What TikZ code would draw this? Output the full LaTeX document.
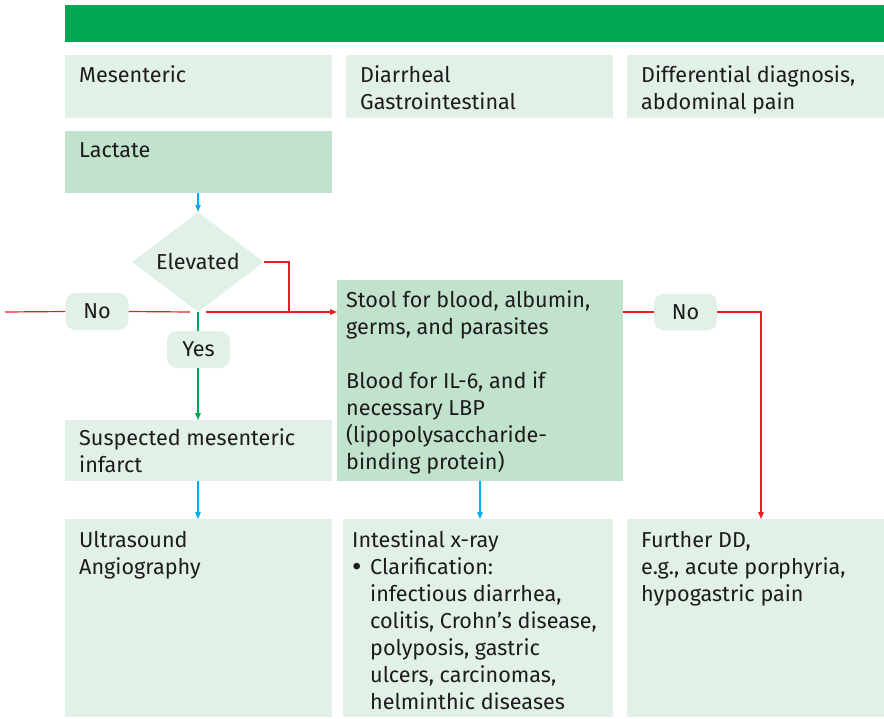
\documentclass[tikz,border=0pt]{standalone}
\usepackage{fontspec}
\setmainfont{Fira Sans}
\usetikzlibrary{shapes.geometric,arrows.meta,calc}
\definecolor{hdrgreen}{HTML}{00A651}
\definecolor{palegreen}{HTML}{E1F1E7}
\definecolor{midgreen}{HTML}{C1E2CD}
\definecolor{flowred}{HTML}{EC1C24}
\definecolor{flowblue}{HTML}{00AEEF}
\definecolor{flowgreen}{HTML}{00A651}
\definecolor{ink}{HTML}{1E1B1C}
\newcommand{\bigbullet}{\makebox[18pt][l]{\raisebox{-2.2pt}{\fontsize{29}{27}\selectfont\textbullet}}}
\tikzset{
  box/.style={rectangle, inner sep=0pt, outer sep=0pt, anchor=north west, fill=palegreen},
  darkbox/.style={box, fill=midgreen},
  txt/.style={anchor=north west, inner sep=0pt, align=left, text=ink,
              font=\fontsize{21.6}{27}\selectfont},
  pill/.style={rectangle, rounded corners=10pt, fill=palegreen, inner sep=0pt,
               minimum width=63pt, minimum height=37pt, text=ink,
               font=\fontsize{21.6}{27}\selectfont},
  tip/.style={-{Triangle[length=7pt,width=5.5pt]}},
  conn/.style={line width=1.2pt},
}
\begin{document}
\begin{tikzpicture}[x=1pt,y=-1pt]
\useasboundingbox (0,0) rectangle (884,718);

% header bar
\node[box, fill=hdrgreen, minimum width=819pt, minimum height=37pt] (hdr) at (65,5) {};

% column headings
\node[box, minimum width=267pt, minimum height=63pt] (h1) at (65,55) {};
\node[box, minimum width=267pt, minimum height=63pt] (h2) at (346,55) {};
\node[box, minimum width=257pt, minimum height=63pt] (h3) at (627,55) {};
\node[txt] (h1t) at ($(h1.north west)+(14,8)$) {\strut Mesenteric};
\node[txt] (h2t) at ($(h2.north west)+(14,8)$) {\strut Diarrheal\\Gastrointestinal};
\node[txt] (h3t) at ($(h3.north west)+(14,8)$) {\strut Differential diagnosis,\\abdominal pain};

% lactate
\node[darkbox, minimum width=267pt, minimum height=62pt] (lact) at (65,131) {};
\node[txt] (lactt) at ($(lact.north west)+(14,7)$) {\strut Lactate};

% decision
\node[diamond, fill=palegreen, inner sep=0pt, minimum width=132pt, minimum height=86pt,
      text=ink, font=\fontsize{21.6}{27}\selectfont] (diam) at (198,262) {Elevated};

% pills
\node[pill] (noL) at (97,311.5) {No};
\node[pill] (yes) at (198.5,349.5) {Yes};
\node[pill] (noR) at (685.5,312) {No};

% suspected infarct
\node[box, minimum width=267pt, minimum height=61pt] (susp) at (65,420) {};
\node[txt] (suspt) at ($(susp.north west)+(14,6)$) {\strut Suspected mesenteric\\infarct};

% stool / blood tests
\node[darkbox, minimum width=286pt, minimum height=201pt] (stool) at (337,280) {};
\node[txt] (stoolt) at ($(stool.north west)+(9,8)$) {\strut Stool for blood, albumin,\\germs, and parasites\\[27pt]Blood for IL-6, and if\\necessary LBP\\(lipopolysaccharide-\\binding protein)};

% bottom row
\node[box, minimum width=267pt, minimum height=198pt] (ultra) at (65,519) {};
\node[box, minimum width=270pt, minimum height=198pt] (xray) at (343,519) {};
\node[box, minimum width=257pt, minimum height=198pt] (dd) at (627,519) {};
\node[txt] (ultrat) at ($(ultra.north west)+(14,9)$) {\strut Ultrasound\\Angiography};
\node[txt] (xrayt) at ($(xray.north west)+(9,9)$) {\strut Intestinal x-ray\\
  \bigbullet Clarification:\\
  \hspace*{18pt}infectious diarrhea,\\
  \hspace*{18pt}colitis, Crohn’s disease,\\
  \hspace*{18pt}polyposis, gastric\\
  \hspace*{18pt}ulcers, carcinomas,\\
  \hspace*{18pt}helminthic diseases};
\node[txt] (ddt) at ($(dd.north west)+(14,9)$) {\strut Further DD,\\e.g., acute porphyria,\\hypogastric pain};

% connectors
\coordinate (inL) at (5,312);
\coordinate (gapA) at (190,312);
\coordinate (gapB) at (206,312);
\coordinate (join) at (289,312);
\coordinate (ddIn) at (761,519);

\draw[conn, flowblue, tip] (diam.north |- lact.south) -- (diam.north);
\draw[conn, flowred] (diam.east) -| (join);
\draw[conn, flowred] (inL) -- (noL.west);
\draw[conn, flowred] (noL.east) -- (gapA);
\draw[conn, flowred, tip] (gapB) -- (gapB -| stool.west);
\draw[conn, flowgreen] (diam.south) -- (diam.south |- yes.north);
\draw[conn, flowgreen, tip] (diam.south |- yes.south) -- (diam.south |- susp.north);
\draw[conn, flowblue, tip] (diam.south |- susp.south) -- (diam.south |- ultra.north);
\draw[conn, flowblue, tip] (stool.south) -- (stool.south |- xray.north);
\draw[conn, flowred] (noR.west -| stool.east) -- (noR.west);
\draw[conn, flowred, tip] (noR.east) -| (ddIn);
\end{tikzpicture}
\end{document}
